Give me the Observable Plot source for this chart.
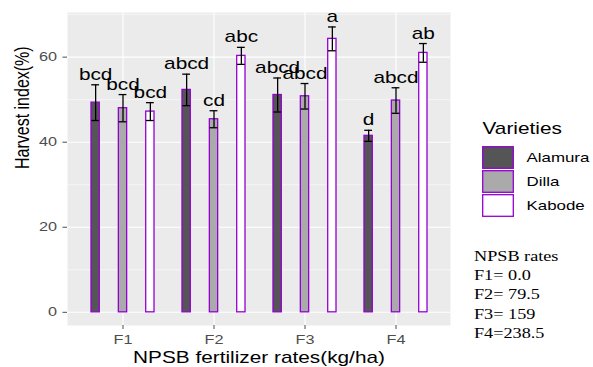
<!DOCTYPE html>
<html><head><meta charset="utf-8">
<script src="https://cdn.jsdelivr.net/npm/d3@7"></script>
<script src="https://cdn.jsdelivr.net/npm/@observablehq/plot@0.6"></script>
<style>
body{margin:0;background:#fff;}
#wrap{position:relative;width:593px;height:367px;overflow:hidden;font-family:"Liberation Sans",Arial,sans-serif;background:#fff;}
#wrap svg{position:absolute;left:0;top:0;}
.stretch{transform-box:fill-box;transform:scaleX(1.3);}
#notes{position:absolute;left:474px;top:247px;font-family:"Liberation Serif","Times New Roman",serif;font-size:14px;line-height:19.2px;color:#000;transform:scaleX(1.3);transform-origin:left top;white-space:nowrap;}
</style></head>
<body>
<div id="wrap"></div>
<script>
const rates = ["F1", "F2", "F3", "F4"];
const varieties = ["Alamura", "Dilla", "Kabode"];
const alamura = [49.3, 52.3, 51.1, 41.5];
const dilla = [48.0, 45.4, 50.8, 49.8];
const kabode = [47.2, 60.3, 64.3, 61.0];
const seAlamura = [4.2, 3.7, 4.0, 1.3];
const seDilla = [3.2, 2.0, 3.0, 3.0];
const seKabode = [2.1, 2.0, 2.8, 2.2];
const lettersAlamura = ["bcd", "abcd", "abcd", "d"];
const lettersDilla = ["bcd", "cd", "abcd", "abcd"];
const lettersKabode = ["bcd", "abc", "a", "ab"];
const yTicks = [0, 20, 40, 60];
const yMinor = [10, 30, 50, 70];
const notes = ["NPSB rates", "F1= 0.0", "F2= 79.5", "F3= 159", "F4=238.5"];
const xTitle = "NPSB fertilizer rates(kg/ha)";
const yTitle = "Harvest index(%)";
const legendTitle = "Varieties";

const values = [alamura, dilla, kabode];
const ses = [seAlamura, seDilla, seKabode];
const letters = [lettersAlamura, lettersDilla, lettersKabode];
const rows = varieties.map((v, j) => rates.map((r, i) => ({
  rate: r, variety: v, value: values[j][i], se: ses[j][i], label: letters[j][i]
})));

const W = 593, H = 367, ML = 67, MR = 143, MT = 12, MB = 42;
const bw = (W - ML - MR) / 4.2;          // band width (paddingOuter 0.1)
const barW = 8.5, capW = 8;
const barInset = (bw - barW) / 2, capInset = (bw - capW) / 2;
const purple = "#9400d3";
const fills = ["#555555", "#aaaaaa", "#ffffff"];

const marks = [
  Plot.frame({fill: "#ebebeb"}),
  Plot.ruleY(yMinor, {stroke: "white", strokeWidth: 0.55}),
  Plot.ruleY(yTicks, {stroke: "white", strokeWidth: 1.1}),
  Plot.ruleX(rates, {x: d => d, stroke: "white", strokeWidth: 1.1}),
  Plot.axisX({tickSize: 4, tickPadding: 6, fontSize: 12.5, color: "#4d4d4d", label: null}),
  Plot.axisY({ticks: yTicks, tickSize: 4.5, tickPadding: 6, fontSize: 12.5, color: "#4d4d4d", label: null}),
  Plot.text([xTitle], {frameAnchor: "bottom", dy: 32.5, lineAnchor: "middle", fontSize: 16, fill: "#000"}),
  Plot.text([yTitle], {frameAnchor: "left", dx: -45, rotate: -90, lineAnchor: "middle", fontSize: 16, fill: "#000"})
];
varieties.forEach((v, j) => {
  const off = (j - 1) * 0.3 * bw;
  marks.push(
    Plot.barY(rows[j], {x: "rate", y: "value", fill: "variety", stroke: purple, strokeWidth: 1.3,
      insetLeft: barInset, insetRight: barInset, dx: off}),
    Plot.ruleX(rows[j], {x: "rate", y1: d => d.value - d.se, y2: d => d.value + d.se, dx: off, stroke: "black", strokeWidth: 1.3}),
    Plot.tickY(rows[j], {x: "rate", y: d => d.value + d.se, dx: off, insetLeft: capInset, insetRight: capInset, stroke: "black", strokeWidth: 1.3}),
    Plot.tickY(rows[j], {x: "rate", y: d => d.value - d.se, dx: off, insetLeft: capInset, insetRight: capInset, stroke: "black", strokeWidth: 1.3}),
    Plot.text(rows[j], {x: "rate", y: d => d.value + d.se, text: "label", dx: off, dy: -5, lineAnchor: "bottom", fontSize: 16, fill: "#000"})
  );
});

const chart = Plot.plot({
  width: W, height: H,
  marginLeft: ML, marginRight: MR, marginTop: MT, marginBottom: MB,
  style: {fontFamily: "Liberation Sans, Arial, sans-serif", fontSize: "12.5px", background: "transparent", overflow: "visible"},
  x: {type: "band", domain: rates, paddingInner: 0, paddingOuter: 0.1},
  y: {domain: [-3.1, 70.5]},
  color: {domain: varieties, range: fills},
  marks
});

const legend = Plot.plot({
  width: W, height: H,
  marginLeft: 482, marginRight: W - 514, marginTop: 144, marginBottom: H - 219,
  style: {fontFamily: "Liberation Sans, Arial, sans-serif", fontSize: "13px", background: "transparent", overflow: "visible"},
  x: {type: "band", domain: ["key"], padding: 0, axis: null},
  y: {type: "band", domain: varieties, padding: 0.04, axis: null},
  color: {domain: varieties, range: fills},
  marks: [
    Plot.cell(varieties, {x: () => "key", y: d => d, fill: d => d, stroke: purple, strokeWidth: 1.3, inset: 0.7}),
    Plot.text(varieties, {x: () => "key", y: d => d, text: d => d, dx: 28, textAnchor: "start", fontSize: 13, fill: "#000"}),
    Plot.text([legendTitle], {frameAnchor: "top-left", dy: -16, lineAnchor: "middle", textAnchor: "start", fontSize: 16, fill: "#000"})
  ]
});

const wrap = document.getElementById("wrap");
wrap.appendChild(chart);
wrap.appendChild(legend);
const nd = document.createElement("div");
nd.id = "notes";
nd.innerHTML = notes.map(s => `<div>${s}</div>`).join("");
wrap.appendChild(nd);

// Reference glyphs are horizontally stretched: widen every text around its anchor
for (const svg of [chart, legend]) {
  for (const t of Array.from(svg.querySelectorAll("text"))) {
    const g = document.createElementNS("http://www.w3.org/2000/svg", "g");
    t.parentNode.insertBefore(g, t);
    g.appendChild(t);
    const tr = t.getAttribute("transform") || "";
    const anchor = getComputedStyle(t).textAnchor;
    let origin = "center center";
    if (!/rotate/.test(tr)) origin = anchor === "start" ? "left center" : anchor === "end" ? "right center" : "center center";
    g.setAttribute("class", "stretch");
    g.style.transformOrigin = origin;
  }
}
</script>
</body></html>
